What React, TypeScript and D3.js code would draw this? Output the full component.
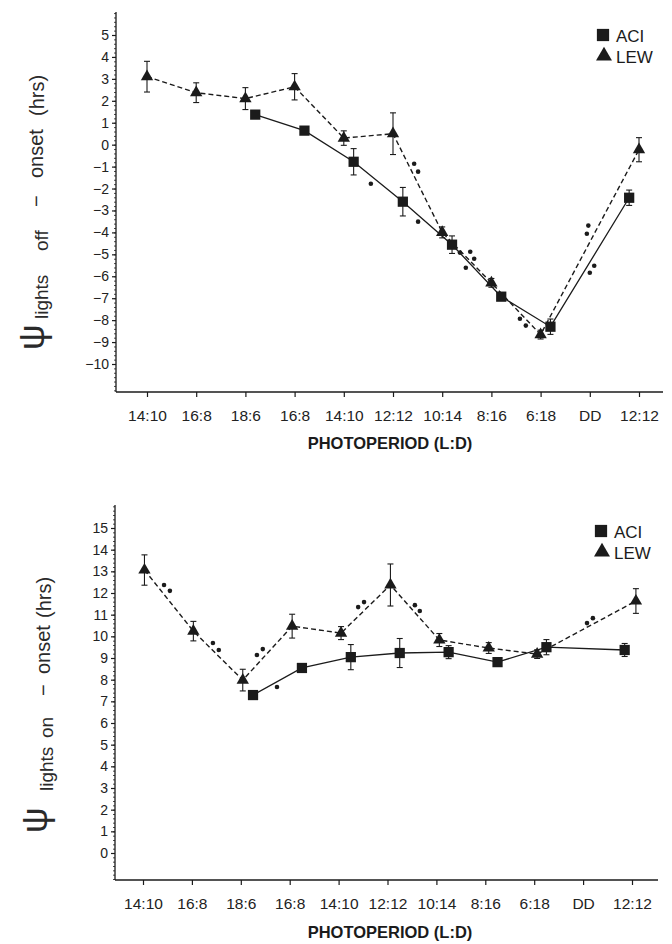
import React, { useEffect, useRef } from 'react';
import * as d3 from 'd3';

// x categories (light:dark schedule, in the order they were run)
const photoperiods = ['14:10', '16:8', '18:6', '16:8', '14:10', '12:12', '10:14', '8:16', '6:18', 'DD', '12:12'];

// upper panel: psi lights off - onset (hrs)
const lewOffPos = [0, 1, 2, 3, 4, 5, 6, 7, 8, 10];
const lewOffVal = [3.1, 2.37, 2.1, 2.64, 0.3, 0.5, -4.0, -6.3, -8.66, -0.23];
const lewOffErr = [0.7, 0.45, 0.5, 0.6, 0.33, 0.95, 0.25, 0.2, 0.2, 0.55];
const aciOffPos = [2.2, 3.2, 4.2, 5.2, 6.2, 7.2, 8.2, 9.8];
const aciOffVal = [1.37, 0.64, -0.78, -2.6, -4.56, -6.93, -8.3, -2.42];
const aciOffErr = [0.15, 0.1, 0.6, 0.65, 0.4, 0.15, 0.35, 0.35];
// single animals
const dotOffPos = [4.55, 5.43, 5.51, 5.51, 6.36, 6.57, 6.65, 6.48, 7.58, 7.7, 8.97, 8.94, 9.09, 9.0];
const dotOffVal = [-1.78, -0.87, -1.23, -3.51, -4.92, -4.88, -5.2, -5.61, -7.94, -8.25, -3.69, -4.06, -5.52, -5.84];

// lower panel: psi lights on - onset (hrs)
const lewOnPos = [0.03, 1.03, 2.04, 3.05, 4.05, 5.06, 6.06, 7.07, 8.06, 10.08];
const lewOnVal = [13.06, 10.24, 7.98, 10.47, 10.15, 12.37, 9.83, 9.46, 9.18, 11.63];
const lewOnErr = [0.7, 0.45, 0.5, 0.55, 0.3, 0.97, 0.3, 0.25, 0.2, 0.57];
const aciOnPos = [2.25, 3.25, 4.25, 5.25, 6.25, 7.25, 8.25, 9.85];
const aciOnVal = [7.29, 8.54, 9.04, 9.23, 9.27, 8.81, 9.5, 9.37];
const aciOnErr = [0.15, 0.15, 0.58, 0.67, 0.3, 0.15, 0.35, 0.3];
const dotOnPos = [0.43, 0.55, 1.43, 1.55, 2.33, 2.45, 2.74, 4.4, 4.52, 5.56, 5.66, 9.08, 9.2];
const dotOnVal = [12.37, 12.1, 9.69, 9.37, 9.14, 9.41, 7.66, 11.35, 11.58, 11.44, 11.17, 10.61, 10.84];

const INK = '#1b1b1b';
const FONT = '"Liberation Sans", Arial, sans-serif';

type Pt = { x: number; v: number; e?: number };

const zip = (xs: number[], vs: number[], es?: number[]): Pt[] =>
  xs.map((x, i) => ({ x, v: vs[i], e: es ? es[i] : undefined }));

function drawPanel(svg: any, p: any) {
  const g = svg.append('g');
  const x = d3.scaleLinear().domain([0, 10]).range(p.xRange);
  const y = d3.scaleLinear().domain(p.yDomain).range(p.yRange);
  const [left, right] = p.axisX;
  const [top, bottom] = p.axisY;

  // axis frame (left + bottom only)
  g.append('line').attr('x1', left).attr('x2', right).attr('y1', bottom).attr('y2', bottom)
    .attr('stroke', INK).attr('stroke-width', 1.3);
  g.append('line').attr('x1', left).attr('x2', left).attr('y1', top).attr('y2', bottom)
    .attr('stroke', INK).attr('stroke-width', 1.3);

  // x axis
  const xAxis = g.append('g')
    .attr('transform', `translate(0,${bottom})`)
    .call(d3.axisBottom(x).tickValues(d3.range(11)).tickFormat((i: any) => photoperiods[i])
      .tickSize(5).tickPadding(13).tickSizeOuter(0));
  xAxis.select('.domain').remove();
  xAxis.attr('font-family', FONT).attr('font-size', 15.5);
  xAxis.selectAll('line').attr('stroke', INK).attr('stroke-width', 1.2);
  xAxis.selectAll('text').attr('fill', '#222');

  // y axis minor ticks
  const lo = Math.ceil(y.invert(bottom) * 5) / 5;
  const hi = y.invert(top);
  const minor = g.append('g')
    .attr('transform', `translate(${left},0)`)
    .call(d3.axisLeft(y).tickValues(d3.range(lo, hi, 0.2)).tickSize(2).tickFormat(() => '').tickSizeOuter(0));
  minor.select('.domain').remove();
  minor.selectAll('line').attr('stroke', INK).attr('stroke-width', 0.8);

  // y axis major ticks
  const yAxis = g.append('g')
    .attr('transform', `translate(${left},0)`)
    .call(d3.axisLeft(y).tickValues(d3.range(p.yDomain[0], p.yDomain[1] + 1))
      .tickFormat((d: any) => (d < 0 ? '\u2212' + Math.abs(d) : String(d)))
      .tickSize(4).tickPadding(3).tickSizeOuter(0));
  yAxis.select('.domain').remove();
  yAxis.attr('font-family', FONT).attr('font-size', 14);
  yAxis.selectAll('line').attr('stroke', INK).attr('stroke-width', 1.2);
  yAxis.selectAll('text').attr('fill', '#222');

  const line = d3.line<Pt>().x(d => x(d.x)).y(d => y(d.v));

  g.append('path').datum(p.aci).attr('d', line).attr('fill', 'none')
    .attr('stroke', INK).attr('stroke-width', 1.3);
  g.append('path').datum(p.lew).attr('d', line).attr('fill', 'none')
    .attr('stroke', INK).attr('stroke-width', 1.4).attr('stroke-dasharray', '5,3');

  // error bars
  const bars = [...p.aci, ...p.lew].filter((d: Pt) => d.e);
  const eb = g.append('g').attr('stroke', INK).attr('stroke-width', 1.1);
  bars.forEach((d: Pt) => {
    const cx = x(d.x);
    const y1 = y(d.v - (d.e || 0));
    const y2 = y(d.v + (d.e || 0));
    eb.append('line').attr('x1', cx).attr('x2', cx).attr('y1', y1).attr('y2', y2);
    eb.append('line').attr('x1', cx - 3).attr('x2', cx + 3).attr('y1', y1).attr('y2', y1);
    eb.append('line').attr('x1', cx - 3).attr('x2', cx + 3).attr('y1', y2).attr('y2', y2);
  });

  // individual animals
  g.append('g').selectAll('circle').data(p.dots).join('circle')
    .attr('cx', (d: Pt) => x(d.x)).attr('cy', (d: Pt) => y(d.v)).attr('r', 2.3).attr('fill', INK);

  // means
  g.append('g').selectAll('path').data(p.aci).join('path')
    .attr('transform', (d: Pt) => `translate(${x(d.x)},${y(d.v)})`)
    .attr('d', d3.symbol(d3.symbolSquare, 105)).attr('fill', INK);
  g.append('g').selectAll('path').data(p.lew).join('path')
    .attr('transform', (d: Pt) => `translate(${x(d.x)},${y(d.v)})`)
    .attr('d', d3.symbol(d3.symbolTriangle, 66)).attr('fill', INK);

  // legend
  const lg = g.append('g').attr('transform', `translate(${p.legend[0]},${p.legend[1]})`);
  lg.append('path').attr('d', d3.symbol(d3.symbolSquare, 150)).attr('fill', INK);
  lg.append('path').attr('transform', 'translate(1,21)').attr('d', d3.symbol(d3.symbolTriangle, 110)).attr('fill', INK);
  lg.append('text').attr('x', 13).attr('y', 7).text('ACI')
    .attr('font-family', FONT).attr('font-size', 17).attr('fill', INK);
  lg.append('text').attr('x', 13).attr('y', 28).text('LEW')
    .attr('font-family', FONT).attr('font-size', 17).attr('fill', INK);

  // x title
  g.append('text').attr('x', 390).attr('y', p.xTitleY).attr('text-anchor', 'middle')
    .attr('font-family', FONT).attr('font-size', 16.5).attr('font-weight', 'bold')
    .attr('fill', INK).text('PHOTOPERIOD (L:D)');

  // y title, pieces read bottom-to-top
  p.yTitle.forEach((t: any) => {
    g.append('text')
      .attr('transform', `translate(${t.bx},${t.start}) rotate(-90)`)
      .attr('font-family', FONT)
      .attr('font-size', t.size)
      .attr('fill', '#2a2a2a')
      .text(t.s);
  });
}

export default function App() {
  const ref = useRef<SVGSVGElement>(null);

  useEffect(() => {
    const svg = d3.select(ref.current);
    svg.selectAll('*').remove();

    drawPanel(svg, {
      xRange: [147, 639], yDomain: [-10, 5], yRange: [364, 35],
      axisX: [116, 663], axisY: [12, 392],
      lew: zip(lewOffPos, lewOffVal, lewOffErr),
      aci: zip(aciOffPos, aciOffVal, aciOffErr),
      dots: zip(dotOffPos, dotOffVal),
      legend: [603, 35], xTitleY: 449,
      yTitle: [
        { s: '\u03c8', start: 350, bx: 44, size: 36 },
        { s: 'lights', start: 319, bx: 48, size: 19 },
        { s: 'off', start: 251, bx: 48, size: 19 },
        { s: '\u2212', start: 207, bx: 43, size: 20 },
        { s: 'onset', start: 178, bx: 43, size: 20 },
        { s: '(hrs)', start: 116, bx: 44, size: 20 },
      ],
    });

    drawPanel(svg, {
      xRange: [143, 632], yDomain: [0, 15], yRange: [853, 528],
      axisX: [115, 658], axisY: [505, 880],
      lew: zip(lewOnPos, lewOnVal, lewOnErr),
      aci: zip(aciOnPos, aciOnVal, aciOnErr),
      dots: zip(dotOnPos, dotOnVal),
      legend: [601, 531], xTitleY: 938,
      yTitle: [
        { s: '\u03c8', start: 833, bx: 47, size: 36 },
        { s: 'lights', start: 791, bx: 53, size: 19 },
        { s: 'on', start: 738, bx: 53, size: 19 },
        { s: '\u2212', start: 696, bx: 50, size: 20 },
        { s: 'onset', start: 674, bx: 50, size: 20 },
        { s: '(hrs)', start: 618, bx: 51, size: 20 },
      ],
    });
  }, []);

  return (
    <svg ref={ref} width={672} height={944}
      style={{ position: 'absolute', left: 0, top: 0, background: '#fff' }} />
  );
}
